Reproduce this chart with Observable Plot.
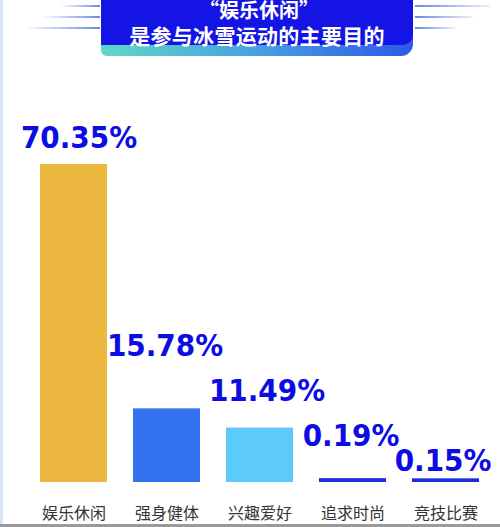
<!DOCTYPE html>
<html>
<head>
<meta charset="utf-8">
<script src="https://cdn.jsdelivr.net/npm/d3@7"></script>
<script src="https://cdn.jsdelivr.net/npm/@observablehq/plot@0.6"></script>
<style>
  html, body { margin: 0; padding: 0; background: #fff; }
  #wrap { position: relative; width: 500px; height: 527px; overflow: hidden; background: #fff; font-family: "Noto Sans CJK SC", sans-serif; }
  #header { position: relative; height: 62px; }
  .banner { position: absolute; left: 101px; top: -6px; width: 312px; height: 62px; border-radius: 0 0 12px 6px;
    background: linear-gradient(90deg, #5fd8c6 0%, #4aa6df 45%, #2f58ea 100%); }
  .banner-body { position: absolute; left: 0; top: 0; width: 312px; height: 51px; background: #1414e4; border-radius: 0 0 10px 0; }
  .title { position: absolute; left: 101px; top: -2px; width: 312px; text-align: center; color: #fff; font-weight: 700; white-space: nowrap; line-height: 24px; }
  .title .a { font-size: 20px; padding-left: 4px; }
  .title .b { font-size: 21px; letter-spacing: 0.3px; }
  .deco { position: absolute; height: 1.5px; }
  .l { background: linear-gradient(90deg, rgba(120,150,230,0) 0%, #6e86e6 100%); }
  .r { background: linear-gradient(90deg, #6e86e6 0%, rgba(120,150,230,0.15) 100%); }
  #frameL { position: absolute; left: 0; top: 0; width: 3px; height: 527px; background: #d6e6f2; }
  #frameB { position: absolute; left: 0; top: 524px; width: 500px; height: 3px; background: #9a9a9a; }
  #chart { position: absolute; left: 0; top: 62px; }
</style>
</head>
<body>
<div id="wrap">
  <div id="header">
    <div class="deco l" style="left:60px; top:5px; width:40px;"></div>
    <div class="deco l" style="left:42px; top:16px; width:58px;"></div>
    <div class="deco l" style="left:25px; top:27px; width:75px;"></div>
    <div class="deco r" style="left:415px; top:5px; width:75px;"></div>
    <div class="deco r" style="left:415px; top:16px; width:58px;"></div>
    <div class="deco r" style="left:415px; top:27px; width:40px;"></div>
    <div class="banner">
      <div class="banner-body"></div>
    </div>
    <div class="title"><span class="a">“娱乐休闲”</span><br><span class="b">是参与冰雪运动的主要目的</span></div>
  </div>
  <div id="chart"></div>
  <div id="frameL"></div>
  <div id="frameB"></div>
</div>
<script>
// ---- data ----
const categories = ["娱乐休闲", "强身健体", "兴趣爱好", "追求时尚", "竞技比赛"];
const values = [70.35, 15.78, 11.49, 0.19, 0.15];

// ---- style / layout ----
const barColors = ["#ECB83F", "#3472F0", "#5CCAFA", "#1A2ED8", "#1A2ED8"];
const labelColor = "#0C0CE4";
const labelLift = [20, 56, 30, 36, 11];   // px above bar top
const labelShift = [5, -2, 7, -2, -3];    // px horizontal nudge

const rows = categories.map((c, i) => ({ cat: c, value: values[i], label: values[i].toFixed(2) + "%" }));

const labelMarks = rows.map((r, i) => Plot.text([r], {
  x: "cat", y: "value", text: "label",
  dy: -labelLift[i], dx: labelShift[i],
  lineAnchor: "bottom",
  fill: labelColor,
  fontFamily: "DejaVu Sans Condensed, DejaVu Sans",
  fontWeight: 900,
  fontSize: 31
}));

const chart = Plot.plot({
  width: 500,
  height: 465,
  marginTop: 105,
  marginBottom: 45,
  marginLeft: 25,
  marginRight: 6,
  style: { fontFamily: "Noto Sans CJK SC, sans-serif", fontSize: "16px", color: "#333", background: "transparent" },
  x: { domain: categories, paddingInner: 0.28, paddingOuter: 0.14, label: null },
  y: { domain: [0, d3.max(values)], axis: null },
  color: { domain: categories, range: barColors },
  marks: [
    Plot.barY(rows, { x: "cat", y: "value", fill: "cat", insetTop: -3 }),
    Plot.axisX({ tickSize: 0, tickPadding: 25, fontSize: 16, label: null }),
    ...labelMarks
  ]
});
document.getElementById("chart").appendChild(chart);
</script>
</body>
</html>
